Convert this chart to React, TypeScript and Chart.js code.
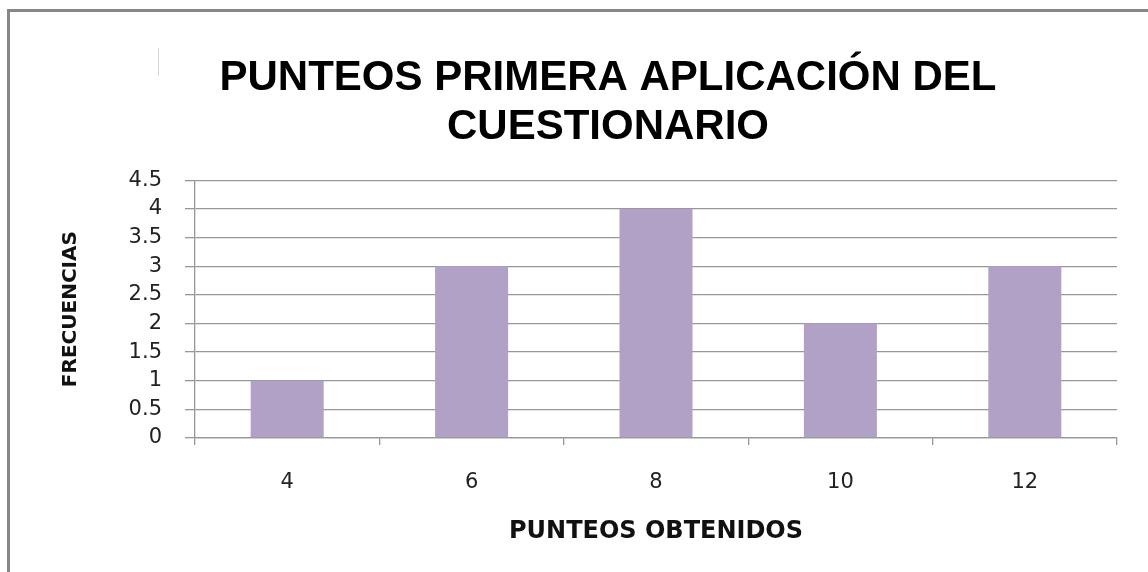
import React, { useEffect, useRef } from "react";
import { Chart, registerables } from "chart.js";

Chart.register(...registerables);

const TITLE_LINES = ["PUNTEOS PRIMERA APLICACIÓN DEL", "CUESTIONARIO"];
const CATEGORIES = ["4", "6", "8", "10", "12"];
const FREQUENCIES = [1, 3, 4, 2, 3];
const X_TITLE = "PUNTEOS OBTENIDOS";
const Y_TITLE = "FRECUENCIAS";
const Y_MIN = 0;
const Y_MAX = 4.5;
const Y_STEP = 0.5;

const BAR_COLOR = "#B2A1C7";
const GRID_COLOR = "#979797";

export default function App() {
  const ref = useRef<HTMLCanvasElement>(null);

  useEffect(() => {
    if (!ref.current) return;
    const chart = new Chart(ref.current, {
      type: "bar",
      data: {
        labels: CATEGORIES,
        datasets: [
          {
            data: FREQUENCIES,
            backgroundColor: BAR_COLOR,
            borderWidth: 0,
            categoryPercentage: 1,
            barPercentage: 0.396,
            yAxisID: "y",
          },
        ],
      },
      options: {
        responsive: false,
        animation: false,
        devicePixelRatio: 1,
        layout: { padding: 0 },
        plugins: {
          legend: { display: false },
          tooltip: { enabled: false },
          title: {
            display: true,
            text: TITLE_LINES,
            color: "#000",
            font: { family: "'Liberation Sans', Arial, sans-serif", size: 42, weight: "bold", lineHeight: 1.17 },
            padding: { top: 42, bottom: 28 },
          },
        },
        scales: {
          x: {
            type: "category",
            offset: true,
            grid: {
              offset: true,
              drawOnChartArea: false,
              drawTicks: true,
              tickLength: 7,
              color: GRID_COLOR,
              lineWidth: 1.3,
            },
            border: { display: true, color: GRID_COLOR, width: 1.3 },
            ticks: {
              color: "#222",
              padding: 25,
              font: { family: "'DejaVu Sans', Verdana, sans-serif", size: 21 },
            },
            title: {
              display: true,
              text: X_TITLE,
              color: "#111",
              font: { family: "'DejaVu Sans', Verdana, sans-serif", size: 24, weight: "bold", lineHeight: 1.2 },
              padding: { top: 0, bottom: 26 },
            },
            afterFit: (s: any) => {
              s.height = 134;
            },
          },
          y: {
            type: "linear",
            position: "left",
            min: Y_MIN,
            max: Y_MAX,
            grid: {
              color: GRID_COLOR,
              lineWidth: 1.3,
              drawTicks: true,
              tickLength: 10,
            },
            border: { display: true, color: GRID_COLOR, width: 1.3 },
            ticks: {
              stepSize: Y_STEP,
              color: "#222",
              padding: 23,
              font: { family: "'DejaVu Sans', Verdana, sans-serif", size: 21 },
              callback: (v: any) => String(Number(v)),
            },
            title: {
              display: true,
              text: Y_TITLE,
              color: "#111",
              font: { family: "'DejaVu Sans', Verdana, sans-serif", size: 20, weight: "bold", lineHeight: 1.2 },
              padding: { top: 49, bottom: 0 },
            },
            afterFit: (s: any) => {
              s.width = 185;
            },
          },
          y2: {
            type: "linear",
            position: "right",
            display: true,
            grid: { display: false },
            border: { display: false },
            ticks: { display: false },
            afterFit: (s: any) => {
              s.width = 89;
            },
          },
        },
      },
    });
    return () => chart.destroy();
  }, []);

  return (
    <div
      style={{
        position: "absolute",
        left: 0,
        top: 0,
        width: 1148,
        height: 572,
        overflow: "hidden",
        background: "#fff",
      }}
    >
      <div
        style={{
          position: "absolute",
          left: 7,
          top: 9,
          width: 1300,
          height: 700,
          borderTop: "3px solid #878787",
          borderLeft: "3px solid #878787",
          background: "#fff",
        }}
      >
        <div
          style={{
            position: "absolute",
            left: 148,
            top: 36,
            width: 1,
            height: 28,
            background: "#d4d4d4",
          }}
        />
        <canvas ref={ref} width={1196} height={560} style={{ display: "block" }} />
      </div>
    </div>
  );
}
